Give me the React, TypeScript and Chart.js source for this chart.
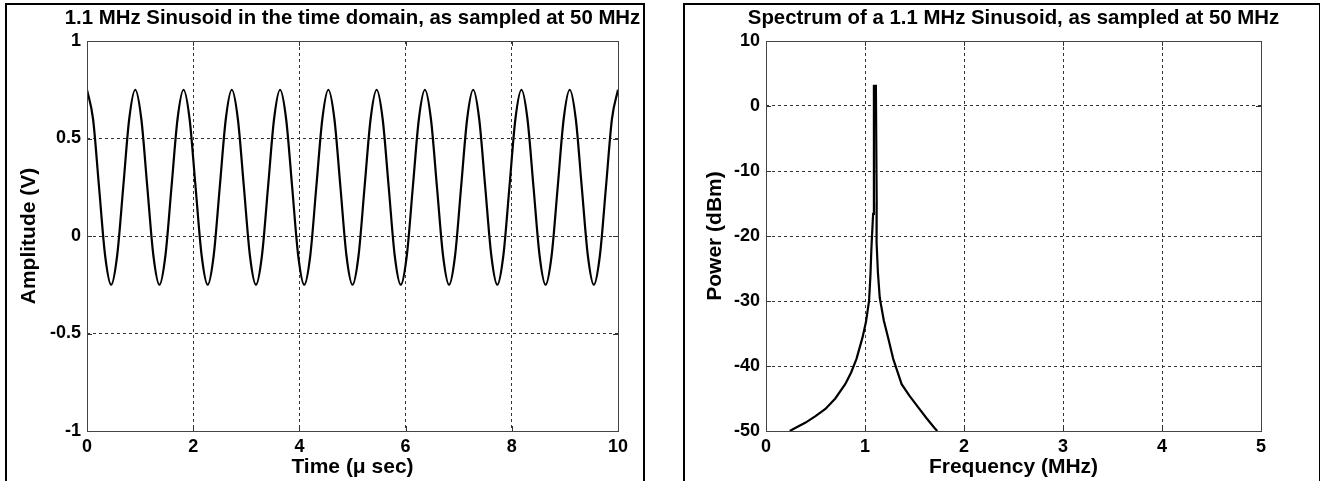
import React, { useEffect, useRef } from 'react';
import { Chart, registerables } from 'chart.js';

Chart.register(...registerables);

// ---------- Data: time domain ----------
const timeUs = [
  0, 0.114, 0.227, 0.341, 0.455, 0.568, 0.682, 0.795,
  0.909, 1.023, 1.136, 1.25, 1.364, 1.477, 1.591, 1.705,
  1.818, 1.932, 2.045, 2.159, 2.273, 2.386, 2.5, 2.614,
  2.727, 2.841, 2.955, 3.068, 3.182, 3.295, 3.409, 3.523,
  3.636, 3.75, 3.864, 3.977, 4.091, 4.205, 4.318, 4.432,
  4.545, 4.659, 4.773, 4.886, 5.0, 5.114, 5.227, 5.341,
  5.455, 5.568, 5.682, 5.795, 5.909, 6.023, 6.136, 6.25,
  6.364, 6.477, 6.591, 6.705, 6.818, 6.932, 7.045, 7.159,
  7.273, 7.386, 7.5, 7.614, 7.727, 7.841, 7.955, 8.068,
  8.182, 8.295, 8.409, 8.523, 8.636, 8.75, 8.864, 8.977,
  9.091, 9.205, 9.318, 9.432, 9.545, 9.659, 9.773, 9.886,
  10,
];
const amplitudeV = [
  0.75, 0.6, 0.25, -0.1, -0.25, -0.1, 0.25, 0.6,
  0.75, 0.6, 0.25, -0.1, -0.25, -0.1, 0.25, 0.6,
  0.75, 0.6, 0.25, -0.1, -0.25, -0.1, 0.25, 0.6,
  0.75, 0.6, 0.25, -0.1, -0.25, -0.1, 0.25, 0.6,
  0.75, 0.6, 0.25, -0.1, -0.25, -0.1, 0.25, 0.6,
  0.75, 0.6, 0.25, -0.1, -0.25, -0.1, 0.25, 0.6,
  0.75, 0.6, 0.25, -0.1, -0.25, -0.1, 0.25, 0.6,
  0.75, 0.6, 0.25, -0.1, -0.25, -0.1, 0.25, 0.6,
  0.75, 0.6, 0.25, -0.1, -0.25, -0.1, 0.25, 0.6,
  0.75, 0.6, 0.25, -0.1, -0.25, -0.1, 0.25, 0.6,
  0.75, 0.6, 0.25, -0.1, -0.25, -0.1, 0.25, 0.6,
  0.75,
];
const timeTicks = [0, 2, 4, 6, 8, 10];
const ampTicks = [-1, -0.5, 0, 0.5, 1];

// ---------- Data: spectrum ----------
const freqMHz = [
  0.24, 0.3, 0.4, 0.5, 0.6, 0.7, 0.8, 0.86, 0.914, 0.975, 1.01, 1.041,
  1.055, 1.065, 1.082, 1.09, 1.11, 1.118, 1.117, 1.13, 1.149, 1.19,
  1.233, 1.285, 1.37, 1.45, 1.53, 1.62, 1.7, 1.73,
];
const powerDbm = [
  -50, -49.5, -48.7, -47.7, -46.6, -45.0, -42.8, -41.0, -38.9, -35.6, -33.2, -30,
  -26, -21.8, -16.6, 3.1, 3.1, -14.9, -21, -25.5, -29.5, -33,
  -35.6, -38.9, -42.8, -44.6, -46.2, -48.0, -49.5, -50,
];
const freqTicks = [0, 1, 2, 3, 4, 5];
const powerTicks = [-50, -40, -30, -20, -10, 0, 10];

const FONT = '"Liberation Sans", Arial, Helvetica, sans-serif';
const TITLE_SIZE = 20.4;
const AXIS_TITLE_SIZE = 21;
const TICK_SIZE = 18;

const framePlugin = {
  id: 'frame',
  afterDatasetsDraw(chart: any) {
    const { ctx, chartArea } = chart;
    const { left, right, top, bottom } = chartArea;
    const x = chart.scales.x;
    const y = chart.scales.y;
    ctx.save();
    ctx.strokeStyle = '#333';
    ctx.lineWidth = 1;
    ctx.beginPath();
    x.ticks.forEach((t: any) => {
      const px = Math.round(x.getPixelForValue(t.value)) + 0.5;
      ctx.moveTo(px, bottom);
      ctx.lineTo(px, bottom - 5);
      ctx.moveTo(px, top);
      ctx.lineTo(px, top + 5);
    });
    y.ticks.forEach((t: any) => {
      const py = Math.round(y.getPixelForValue(t.value)) + 0.5;
      ctx.moveTo(left, py);
      ctx.lineTo(left + 5, py);
      ctx.moveTo(right, py);
      ctx.lineTo(right - 5, py);
    });
    ctx.stroke();
    ctx.strokeStyle = '#444';
    ctx.strokeRect(
      Math.round(left) + 0.5,
      Math.round(top) + 0.5,
      Math.round(right - left),
      Math.round(bottom - top)
    );
    ctx.restore();
  },
};

function makeTitlePlugin(text: string) {
  return {
    id: 'plotTitle',
    afterDraw(chart: any) {
      const { ctx, chartArea } = chart;
      ctx.save();
      ctx.fillStyle = '#000';
      ctx.font = `bold ${TITLE_SIZE}px ${FONT}`;
      ctx.textAlign = 'center';
      ctx.textBaseline = 'middle';
      ctx.fillText(text, (chartArea.left + chartArea.right) / 2, 18);
      ctx.restore();
    },
  };
}

type Cfg = {
  title: string;
  xTitle: string;
  yTitle: string;
  xs: number[];
  ys: number[];
  xTicks: number[];
  yTicks: number[];
  yWidth: number;
  padRight: number;
  yTitlePad: number;
  smooth: boolean;
};

function makeConfig(c: Cfg): any {
  const tickFont = { family: FONT, size: TICK_SIZE, weight: 'bold' as const };
  const axisTitleFont = { family: FONT, size: AXIS_TITLE_SIZE, weight: 'bold' as const };
  return {
    type: 'scatter',
    data: {
      datasets: [
        {
          data: c.xs.map((v, i) => ({ x: v, y: c.ys[i] })),
          showLine: true,
          borderColor: '#000',
          borderWidth: 2.2,
          pointRadius: 0,
          pointHoverRadius: 0,
          fill: false,
          tension: c.smooth ? 0.4 : 0,
          cubicInterpolationMode: c.smooth ? 'monotone' : 'default',
        },
      ],
    },
    options: {
      animation: false,
      responsive: false,
      maintainAspectRatio: false,
      events: [],
      layout: { padding: { left: 0, right: c.padRight, top: 41, bottom: 0 } },
      plugins: {
        legend: { display: false },
        tooltip: { enabled: false },
        title: { display: false },
      },
      scales: {
        x: {
          type: 'linear',
          min: c.xTicks[0],
          max: c.xTicks[c.xTicks.length - 1],
          afterFit: (s: any) => {
            s.height = 50;
          },
          afterBuildTicks: (s: any) => {
            s.ticks = c.xTicks.map((v) => ({ value: v }));
          },
          ticks: {
            color: '#000',
            font: tickFont,
            padding: 5,
            maxRotation: 0,
            autoSkip: false,
            callback: (v: number) => `${v}`,
          },
          grid: { color: '#333', lineWidth: 1, drawTicks: false },
          border: { display: false, dash: [3, 3] },
          title: {
            display: true,
            text: c.xTitle,
            color: '#000',
            font: axisTitleFont,
            padding: { top: 0, bottom: 1.4 },
          },
        },
        y: {
          type: 'linear',
          min: c.yTicks[0],
          max: c.yTicks[c.yTicks.length - 1],
          afterFit: (s: any) => {
            s.width = c.yWidth;
          },
          afterBuildTicks: (s: any) => {
            s.ticks = c.yTicks.map((v) => ({ value: v }));
          },
          ticks: {
            color: '#000',
            font: tickFont,
            padding: 6,
            autoSkip: false,
            callback: (v: number) => `${v}`,
          },
          grid: { color: '#333', lineWidth: 1, drawTicks: false },
          border: { display: false, dash: [3, 3] },
          title: {
            display: true,
            text: c.yTitle,
            color: '#000',
            font: axisTitleFont,
            padding: { top: c.yTitlePad, bottom: 0 },
          },
        },
      },
    },
    plugins: [framePlugin, makeTitlePlugin(c.title)],
  };
}

function ChartCanvas({ cfg, left }: { cfg: Cfg; left: number }) {
  const ref = useRef<HTMLCanvasElement | null>(null);
  useEffect(() => {
    if (!ref.current) return;
    const chart = new Chart(ref.current, makeConfig(cfg));
    return () => chart.destroy();
  }, []);
  return (
    <canvas
      ref={ref}
      width={660}
      height={481}
      style={{ position: 'absolute', left, top: 0, width: 660, height: 481 }}
    />
  );
}

const leftCfg: Cfg = {
  title: '1.1 MHz Sinusoid in the time domain, as sampled at 50 MHz',
  xTitle: 'Time (\u03bc sec)',
  yTitle: 'Amplitude (V)',
  xs: timeUs,
  ys: amplitudeV,
  xTicks: timeTicks,
  yTicks: ampTicks,
  yWidth: 87,
  padRight: 42,
  yTitlePad: 16.4,
  smooth: true,
};

const rightCfg: Cfg = {
  title: 'Spectrum of a 1.1 MHz Sinusoid, as sampled at 50 MHz',
  xTitle: 'Frequency (MHz)',
  yTitle: 'Power (dBm)',
  xs: freqMHz,
  ys: powerDbm,
  xTicks: freqTicks,
  yTicks: powerTicks,
  yWidth: 106,
  padRight: 59,
  yTitlePad: 42.4,
  smooth: false,
};

export default function App() {
  return (
    <div
      style={{
        position: 'fixed',
        left: 0,
        top: 0,
        width: 1320,
        height: 481,
        background: '#fff',
        overflow: 'hidden',
      }}
    >
      <div
        style={{
          position: 'absolute',
          left: 5,
          top: 3,
          width: 640,
          height: 600,
          boxSizing: 'border-box',
          border: '2px solid #000',
        }}
      />
      <div
        style={{
          position: 'absolute',
          left: 683,
          top: 3,
          width: 638,
          height: 600,
          boxSizing: 'border-box',
          border: '2px solid #000',
        }}
      />
      <ChartCanvas cfg={leftCfg} left={0} />
      <ChartCanvas cfg={rightCfg} left={660} />
    </div>
  );
}
